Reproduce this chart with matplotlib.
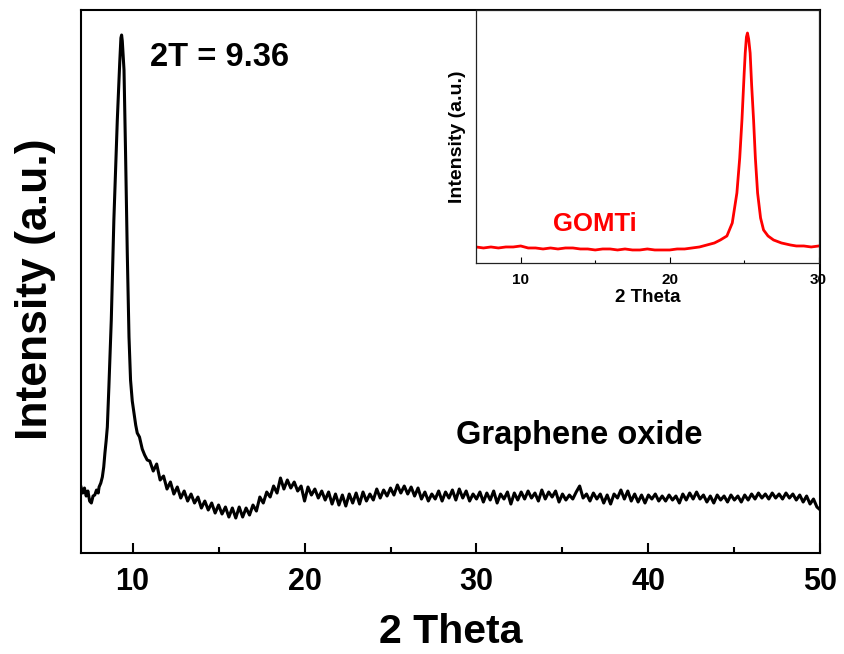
import matplotlib
matplotlib.use('Agg')
import matplotlib.pyplot as plt
import numpy as np
from matplotlib.ticker import MultipleLocator

plt.rcParams['font.family'] = ['Liberation Sans', 'DejaVu Sans']
plt.rcParams['font.weight'] = 'bold'

# Graphene oxide - peak region (2 theta, intensity a.u.)
go_peak_theta = [7.0, 7.1, 7.2, 7.3, 7.4, 7.5, 7.6, 7.7, 7.8, 7.9, 8.0, 8.05, 8.15,
                 8.24, 8.32, 8.39, 8.46, 8.53, 8.62, 8.76, 8.91, 9.11, 9.25, 9.32,
                 9.36, 9.40, 9.50, 9.59, 9.69, 9.79, 9.88, 9.98, 10.08, 10.18,
                 10.27, 10.4, 10.56, 10.7, 10.85]
go_peak_int = [66, 60, 65, 57, 62, 52, 50, 57, 58, 63, 60, 66, 70,
               76, 86, 100, 112, 126, 166, 233, 333, 433, 490, 515,
               518, 512, 483, 400, 300, 216, 173, 152, 140, 128,
               120, 116, 104, 98, 93]

# Graphene oxide - background from 11.0 to 50.0, step 0.2
go_tail_start = 11.0
go_tail_step = 0.2
go_tail_int = [
    92, 82, 89, 73, 77,   # 11
    64, 71, 59, 66, 55,   # 12
    62, 52, 59, 50, 56,   # 13
    45, 52, 43, 50, 40,   # 14
    48, 39, 46, 36, 45,   # 15
    35, 46, 36, 45, 38,   # 16
    48, 42, 56, 50, 61,   # 17
    56, 67, 60, 75, 64,   # 18
    73, 65, 71, 62, 67,   # 19
    52, 66, 58, 64, 55,   # 20
    62, 53, 61, 49, 59,   # 21
    48, 58, 47, 59, 50,   # 22
    60, 49, 61, 52, 59,   # 23
    53, 64, 55, 63, 57,   # 24
    65, 58, 68, 60, 67,   # 25
    59, 66, 57, 65, 54,   # 26
    61, 52, 59, 54, 62,   # 27
    52, 61, 55, 63, 53,   # 28
    64, 55, 62, 52, 59,   # 29
    54, 61, 51, 60, 53,   # 30
    62, 50, 59, 54, 61,   # 31
    49, 60, 53, 61, 54,   # 32
    62, 55, 60, 52, 63,   # 33
    54, 61, 56, 62, 51,   # 34
    59, 53, 58, 54, 61,   # 35
    67, 55, 59, 52, 60,   # 36
    54, 59, 50, 58, 49,   # 37
    59, 55, 63, 54, 62,   # 38
    52, 59, 51, 58, 50,   # 39
    58, 54, 59, 52, 57,   # 40
    52, 58, 53, 57, 50,   # 41
    59, 53, 60, 54, 61,   # 42
    54, 58, 51, 57, 50,   # 43
    58, 53, 57, 51, 58,   # 44
    53, 57, 51, 58, 53,   # 45
    59, 54, 60, 55, 59,   # 46
    54, 60, 55, 59, 54,   # 47
    60, 55, 59, 53, 58,   # 48
    51, 57, 49, 54, 46,   # 49
    43,                   # 50
]

# GOMTi (inset)
gomti_theta = [7.0, 7.5, 8.0, 8.5, 9.0, 9.5, 10.0, 10.5, 11.0, 11.5, 12.0, 12.5,
               13.0, 13.5, 14.0, 14.5, 15.0, 15.5, 16.0, 16.5, 17.0, 17.5, 18.0,
               18.5, 19.0, 19.5, 20.0, 20.5, 21.0, 21.5, 22.0, 22.5, 23.0, 23.4,
               23.84, 24.2, 24.51, 24.7, 24.85, 25.0, 25.07, 25.15, 25.22, 25.3,
               25.4, 25.5, 25.63, 25.75, 25.9, 26.1, 26.3, 26.6, 26.97, 27.5,
               28.1, 28.5, 29.0, 29.5, 30.0]
gomti_int = [16, 15, 16, 15, 16, 16, 17, 15, 15, 14, 15, 14,
             15, 15, 14, 14, 13, 14, 14, 13, 14, 13, 13,
             14, 13, 13, 13, 14, 14, 15, 16, 18, 20, 23,
             27, 40, 70, 105, 143, 190, 210, 226, 230, 224,
             210, 178, 143, 105, 70, 45, 33, 27, 23, 20,
             18, 17, 17, 16, 17]

main_ticks = [10, 20, 30, 40, 50]
inset_ticks = [10, 20, 30]

go_tail_theta = go_tail_start + go_tail_step * np.arange(len(go_tail_int))
go_theta = np.concatenate([go_peak_theta, go_tail_theta])
go_int = np.concatenate([go_peak_int, go_tail_int])

fig = plt.figure(figsize=(8.44, 6.54), dpi=100, facecolor='white')

# Main axes
ax = fig.add_axes([0.096, 0.1544, 0.876, 0.8303])
ax.plot(go_theta, go_int, color='black', linewidth=2.2)
ax.set_xlim(7, 50)
ax.set_ylim(0, 543)
ax.set_yticks([])
ax.set_xticks(main_ticks)
ax.xaxis.set_minor_locator(MultipleLocator(5))
ax.tick_params(axis='x', which='major', direction='in', length=7.5, width=1.5,
               labelsize=22, pad=10)
ax.tick_params(axis='x', which='minor', direction='in', length=4.5, width=1.5)
for sp in ax.spines.values():
    sp.set_linewidth(1.5)
ax.set_xlabel('2 Theta', fontsize=29.5, fontweight='bold', va='center')
ax.xaxis.set_label_coords(0.5, -0.145)
ax.set_ylabel('Intensity (a.u.)', fontsize=32, fontweight='bold', va='center')
ax.yaxis.set_label_coords(-0.062, 0.485)

ax.text(0.0933, 0.912, '2T = 9.36', transform=ax.transAxes, fontsize=23.5,
        fontweight='bold', ha='left', va='center')
ax.text(0.507, 0.217, 'Graphene oxide', transform=ax.transAxes, fontsize=23.5,
        fontweight='bold', ha='left', va='center')

# Inset axes
axin = fig.add_axes([0.564, 0.5979, 0.406, 0.3868])
axin.plot(gomti_theta, gomti_int, color='#ff0000', linewidth=2.0)
axin.set_xlim(7, 30)
axin.set_ylim(0, 253)
axin.set_yticks([])
axin.set_xticks(inset_ticks)
axin.xaxis.set_minor_locator(MultipleLocator(5))
axin.tick_params(axis='x', which='major', direction='in', length=4, width=0.8,
                 labelsize=11, pad=7)
axin.tick_params(axis='x', which='minor', direction='in', length=2, width=0.8)
for sp in axin.spines.values():
    sp.set_linewidth(0.9)
    sp.set_color('#222222')
axin.set_xlabel('2 Theta', fontsize=13.5, fontweight='bold', va='center')
axin.xaxis.set_label_coords(0.5, -0.138)
axin.set_ylabel('Intensity (a.u.)', fontsize=14, fontweight='bold', va='center')
axin.yaxis.set_label_coords(-0.055, 0.5)
axin.text(0.2245, 0.154, 'GOMTi', transform=axin.transAxes, fontsize=18.5,
          fontweight='bold', color='#ff0000', ha='left', va='center')

fig.savefig('out.png', dpi=100, facecolor='white')
